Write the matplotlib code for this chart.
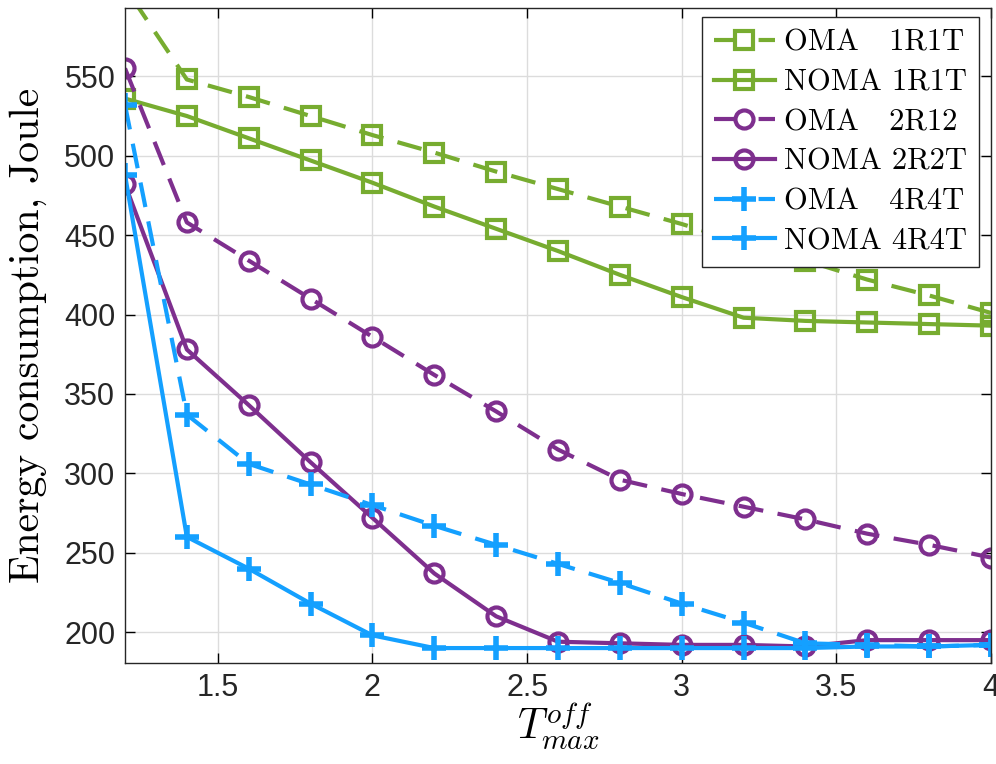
import matplotlib.pyplot as plt
import numpy as np

t_off = [1.2, 1.4, 1.6, 1.8, 2.0, 2.2, 2.4, 2.6, 2.8, 3.0, 3.2, 3.4, 3.6, 3.8, 4.0]

oma_1r1t = [606, 548, 537, 525, 513, 502, 490, 479, 468, 457, 445, 434, 422, 412, 401]
noma_1r1t = [536, 525, 511, 497, 483, 468, 454, 440, 425, 411, 398, 396, 395, 394, 393]
oma_2r2t = [555, 458, 434, 410, 386, 362, 339, 315, 296, 287, 279, 271, 262, 255, 247]
noma_2r2t = [482, 378, 343, 307, 272, 237, 210, 194, 193, 192, 192, 191, 195, 195, 195]
oma_4r4t = [532, 337, 306, 293, 280, 267, 255, 243, 231, 218, 206, 193, 192, 191, 192]
noma_4r4t = [488, 260, 240, 218, 198, 190, 190, 190, 190, 190, 190, 190, 191, 191, 192]

labels = ['OMA   1R1T', 'NOMA 1R1T', 'OMA   2R12', 'NOMA 2R2T', 'OMA   4R4T', 'NOMA 4R4T']

green = '#77AC30'
purple = '#7E2F8E'
blue = '#14A0FF'

plt.rcParams['mathtext.fontset'] = 'cm'
tick_font = ['Liberation Sans', 'DejaVu Sans']

fig = plt.figure(figsize=(9.96, 7.64), dpi=100)
ax = fig.add_axes([0.1255, 0.132, 0.8695, 0.8575])

lw = 3.0
dash = (6, 3.5)
series = [
    (oma_1r1t, green, 's', True),
    (noma_1r1t, green, 's', False),
    (oma_2r2t, purple, 'o', True),
    (noma_2r2t, purple, 'o', False),
    (oma_4r4t, blue, '+', True),
    (noma_4r4t, blue, '+', False),
]
for (vals, c, m, dashed), lab in zip(series, labels):
    line, = ax.plot(t_off, vals, color=c, lw=lw, marker=m, ms=13 if m != '+' else 17,
                    mfc='none', mec=c, mew=3.0 if m != '+' else 4.0, label=lab)
    if dashed:
        line.set_dashes(dash)

ax.set_xlim(1.2, 4.0)
ax.set_ylim(180.5, 593)
ax.set_xticks([1.5, 2, 2.5, 3, 3.5, 4])
ax.set_xticklabels(['1.5', '2', '2.5', '3', '3.5', '4'])
ax.set_yticks([200, 250, 300, 350, 400, 450, 500, 550])
for lbl in ax.get_xticklabels() + ax.get_yticklabels():
    lbl.set_family(tick_font)
    lbl.set_fontsize(22)
    lbl.set_color('#262626')

ax.grid(True, color='#dcdcdc', lw=1)
ax.tick_params(direction='in', length=7, width=1, top=True, right=True, pad=7)
for s in ax.spines.values():
    s.set_color('#262626')
    s.set_linewidth(1)

ax.set_ylabel('Energy consumption, Joule', family='cmr10', fontsize=30, labelpad=12)
ax.set_xlabel(r'$T_{max}^{off}$', fontsize=30, labelpad=-2)

leg = ax.legend(loc='upper right', bbox_to_anchor=(0.997, 1.0), prop={'family': 'cmr10', 'size': 22},
                handlelength=2.0, handletextpad=0.3, labelspacing=0.4, borderpad=0.4,
                borderaxespad=0.3, fancybox=False, edgecolor='#262626', framealpha=1)
leg.get_frame().set_linewidth(1)
# dashed handles: dash, marker, gap, short dash
for hl, (_, _, _, dashed) in zip(leg.get_lines(), series):
    if dashed:
        hl.set_linestyle((0, (5, 5.7)))

plt.savefig('out.png', dpi=100)
